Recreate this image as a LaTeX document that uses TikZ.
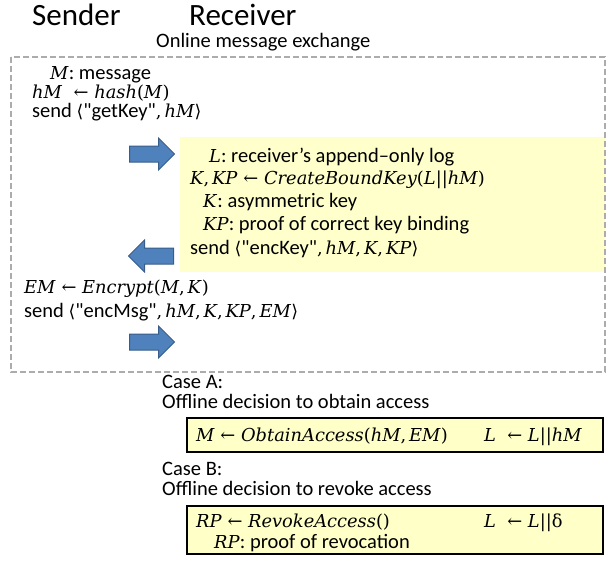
\documentclass[tikz,border=0pt]{standalone}
\usepackage{fontspec}
\setmainfont{Carlito}[Ligatures=TeXOff]
\newfontfamily\exprfont{DejaVu Serif}[Scale=0.87]
\newfontfamily\bracketfont{DejaVu Sans}[Scale=0.85]
\usetikzlibrary{shapes.arrows}

\definecolor{logyellow}{HTML}{FFFFCC}
\definecolor{caseyellow}{HTML}{FFFFC8}
\definecolor{arrowblue}{HTML}{4F81BD}
\definecolor{arrowedge}{HTML}{385D8A}

% expressions in a serif, variables in italics
\newcommand{\ex}[1]{{\exprfont #1}}
\newcommand{\vr}[1]{\textit{#1}}
\newcommand{\angL}{{\bracketfont ⟨}}
\newcommand{\angR}{{\bracketfont ⟩}}

\tikzset{
	txt/.style={anchor=base west,inner sep=0pt,font=\fontsize{20.5}{22}\selectfont},
	title/.style={anchor=base west,inner sep=0pt,font=\fontsize{31}{33}\selectfont},
	msgarrow/.style={single arrow,fill=arrowblue,draw=arrowedge,line width=1pt,
		minimum height=45pt,inner sep=7.5pt,single arrow head extend=8pt,anchor=tail},
	casebox/.style={draw=black,line width=1.8pt,fill=caseyellow}
}

\begin{document}
\begin{tikzpicture}[x=1pt,y=1pt]
			\useasboundingbox (0,0) rectangle (608,-566);
			\fill [logyellow] (180,-137) rectangle (605,-272);
			\draw [gray!65,line width=1.4pt,dash pattern=on 6pt off 3pt] (11,-57) rectangle (605,-372);
			\draw [casebox] (187,-418) rectangle (603,-452);
			\draw [casebox] (187,-506) rectangle (603,-554);

			\node[title] (sender) at (32,-25) {Sender};
			\node[title] (receiver) at (189,-25) {Receiver};
			\node[txt] (online) at (156,-47) {Online message exchange};

			\node[txt] (msg) at (50,-79) {\ex{\vr{M}}: message};
			\node[txt] (hash) at (32,-98) {\ex{\vr{hM}~~← \vr{hash}(\vr{M})}};
			\node[txt] (getkey) at (32,-117) {send \angL"getKey"\ex{,\,\vr{hM}}\angR};

			\node[txt] (logL) at (209,-162) {\ex{\vr{L}}: receiver’s append\textendash only log};
			\node[txt] (bound) at (190,-184) {\ex{\vr{K},\,\vr{KP} ← \vr{CreateBoundKey}(\vr{L}||\vr{hM})}};
			\node[txt] (keyK) at (203,-207) {\ex{\vr{K}}: asymmetric key};
			\node[txt] (keyKP) at (203,-230) {\ex{\vr{KP}}: proof of correct key binding};
			\node[txt] (enckey) at (190,-254) {send \angL"encKey"\ex{,\,\vr{hM},\,\vr{K},\,\vr{KP}}\angR};

			\node[txt] (encrypt) at (24,-293) {\ex{\vr{EM} ← \vr{Encrypt}(\vr{M},\,\vr{K})}};
			\node[txt] (encmsg) at (24,-317) {send \angL"encMsg"\ex{,\,\vr{hM},\,\vr{K},\,\vr{KP},\,\vr{EM}}\angR};

			\node[msgarrow] (getarrow) at (129,-154) {};
			\node[msgarrow,shape border rotate=180] (keyarrow) at (174,-256) {};
			\node[msgarrow] (msgarrow) at (129,-342) {};

			\node[txt] (casea) at (162,-388) {Case A:};
			\node[txt] (obtaindec) at (162,-408) {Offline decision to obtain access};
			\node[txt] (obtain) at (196,-441) {\ex{\vr{M} ← \vr{ObtainAccess}(\vr{hM},\,\vr{EM})}};
			\node[txt] (appenda) at (484,-441) {\ex{\vr{L}~~← \vr{L}||\vr{hM}}};

			\node[txt] (caseb) at (162,-475) {Case B:};
			\node[txt] (revokedec) at (162,-495) {Offline decision to revoke access};
			\node[txt] (revoke) at (196,-527) {\ex{\vr{RP} ← \vr{RevokeAccess}()}};
			\node[txt] (appendb) at (484,-527) {\ex{\vr{L}~~← \vr{L}||δ}};
			\node[txt] (rpdef) at (214,-548) {\ex{\vr{RP}}: proof of revocation};
		\end{tikzpicture}
\end{document}
